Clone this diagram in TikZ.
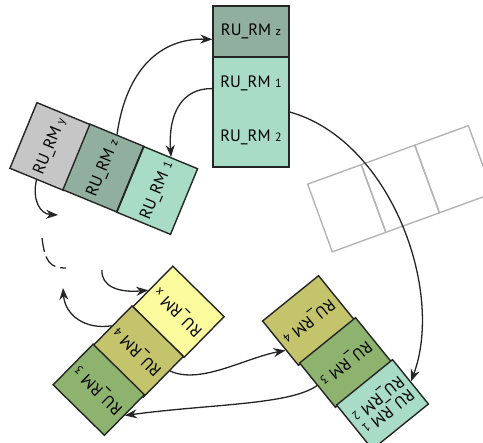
\documentclass[tikz,border=0pt]{standalone}
\usepackage{fontspec}
\setmainfont{PT Sans}
\usetikzlibrary{arrows.meta,calc}

\definecolor{lineclr}{HTML}{252525}
\definecolor{cgrey}{HTML}{C6C6C6}
\definecolor{czgreen}{HTML}{91AF9E}
\definecolor{caqua}{HTML}{A8DCC7}
\definecolor{cyellow}{HTML}{FBFB9E}
\definecolor{colive}{HTML}{C4C46C}
\definecolor{cgreen}{HTML}{8DB36E}
\definecolor{emptyclr}{HTML}{B4B4B4}

% register label with a small suffix
\newcommand\regname[1]{RU\_RM\hspace{4.5pt}{\fontsize{12}{12}\selectfont #1}}

\begin{document}
\begin{tikzpicture}[x=1pt,y=-1pt,
  cell/.style={draw=lineclr, line width=1.4pt, inner sep=0pt,
    font=\fontsize{16.5}{17}\selectfont},
  tilted/.style={cell, minimum width=72pt, minimum height=57pt},
  emptycell/.style={draw=emptyclr, line width=1.4pt, inner sep=0pt,
    minimum width=57pt, minimum height=72pt, rotate=20},
  lbl/.style={inner sep=0pt, font=\fontsize{16.5}{17}\selectfont},
  conn/.style={draw=lineclr, line width=1.3pt, -{Stealth[length=12pt,width=9pt]}},
  dashline/.style={draw=lineclr, line width=1.3pt, dash pattern=on 14pt off 5pt},
]
\useasboundingbox (0,0) rectangle (483,443);
\clip (0,0) rectangle (483,443);

% empty frame on the right
\node[emptycell] (g1) at (346.75,208.25) {};
\node[emptycell] (g2) at (400.3,188.75) {};
\node[emptycell] (g3) at (453.9,169.25) {};

% top column
\node[cell, fill=czgreen, minimum width=76pt, minimum height=51pt] (tz) at (251,31.5) {\regname{z}};
\node[cell, fill=caqua, minimum width=76pt, minimum height=110pt] (tb) at (251,112) {};
\node[lbl] (t1) at (251,83) {\regname{1}};
\node[lbl] (t2) at (251,137) {\regname{2}};

% tilted column on the left
\node[tilted, fill=cgrey, minimum width=71pt, minimum height=58pt, rotate=67.6] (ly) at (50.25,146.5) {\regname{y}};
\node[tilted, fill=czgreen, minimum width=71pt, minimum height=58pt, rotate=67.6] (lz) at (103.25,168) {\regname{z}};
\node[tilted, fill=caqua, minimum width=71pt, minimum height=58pt, rotate=67.6] (l1) at (157.25,190.5) {\regname{1}};

% column at the bottom left
\node[tilted, fill=cyellow, rotate=135.5] (bx) at (178.5,311.75) {\regname{x}};
\node[tilted, fill=colive, rotate=135.5] (b4) at (137.75,351.5) {\regname{4}};
\node[tilted, fill=cgreen, rotate=135.5] (b3) at (98.75,389.75) {\regname{3}};

% column at the bottom right
\node[tilted, fill=colive, rotate=219] (r4) at (308.5,320.5) {\regname{4}};
\node[tilted, fill=cgreen, rotate=219] (r3) at (345.5,362.5) {\regname{3}};
\node[tilted, fill=caqua, rotate=219, align=center, font=\fontsize{16.5}{15}\selectfont] (r1) at (382.5,404.5) {\regname{1}\\\regname{2}};

% free ends
\coordinate (e4) at (58,215);
\coordinate (d1) at (42,238);
\coordinate (d2) at (66,268);
\coordinate (s6) at (102,270);
\coordinate (e7) at (63,288);

% connectors
\draw[conn] (lz.east) .. controls (126,70) and (160,38) .. ($(tz.west)!0.3!(tz.south west)$);
\draw[conn] ($(tb.west)!0.42!(tb.north west)$) .. controls (183,88) and (168,112) .. (l1.east);
\draw[conn] (tb.east) .. controls (390,140) and (445,290) .. (r1.west);
\draw[conn] (ly.west) .. controls (32,200) and (40,214) .. (e4);
\draw[dashline] (d1) .. controls (45,262) and (50,268) .. (d2);
\draw[conn] (s6) .. controls (101,286) and (118,293) .. ($(bx.east)!0.2!(bx.north east)$);
\draw[conn] (b4.east) .. controls (85,330) and (65,315) .. (e7);
\draw[conn] ($(b4.west)!0.3!(b4.south west)$) .. controls (200,385) and (245,358) .. ($(r4.east)!0.3!(r4.north east)$);
\draw[conn] (r3.east) .. controls (290,405) and (210,404) .. (b3.west);
\end{tikzpicture}
\end{document}
